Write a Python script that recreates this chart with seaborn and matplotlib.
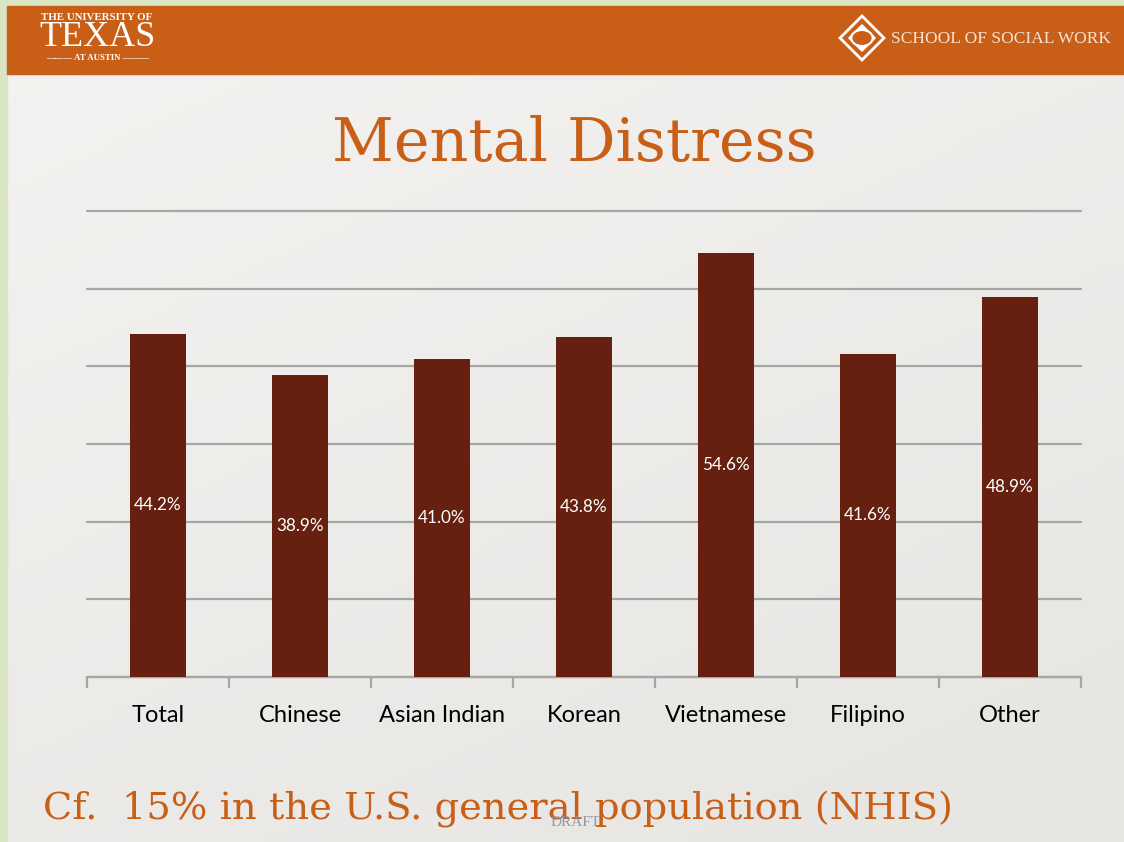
import numpy as np
import pandas as pd
import seaborn as sns
import matplotlib.pyplot as plt
from matplotlib.patches import Rectangle, Polygon, Circle

# datos del grafico
grupos = ['Total', 'Chinese', 'Asian Indian', 'Korean', 'Vietnamese', 'Filipino', 'Other']
distress = [44.2, 38.9, 41.0, 43.8, 54.6, 41.6, 48.9]
etiquetas = ['44.2%', '38.9%', '41.0%', '43.8%', '54.6%', '41.6%', '48.9%']
titulo = 'Mental Distress'
nota = 'Cf.  15% in the U.S. general population (NHIS)'

df = pd.DataFrame({'grupo': grupos, 'valor': distress})

naranja = '#C95E17'
barra = '#65200F'
gris = '#A6A6A6'

sns.set_style('white')
plt.rcParams['font.family'] = ['Lato', 'DejaVu Sans']

fig = plt.figure(figsize=(11.24, 8.42), dpi=100)

# fondo con degradado suave
bg = fig.add_axes([0, 0, 1, 1], zorder=-10)
yy, xx = np.mgrid[0:1:200j, 0:1:200j]
grad = 0.5 * yy + 0.3 * xx
bg.imshow(grad, cmap=sns.blend_palette(['#F4F3F1', '#E7E5E2'], as_cmap=True),
          extent=[0, 1, 0, 1], aspect='auto', origin='upper')
bg.set_xlim(0, 1)
bg.set_ylim(0, 1)
bg.axis('off')

# bandas verdes y cabecera naranja
bg.add_patch(Rectangle((0, 0), 7 / 1124, 1, color='#D9E5C3', zorder=2))
bg.add_patch(Rectangle((0, 1 - 6 / 842), 1, 6 / 842, color='#D9E5C3', zorder=2))
bg.add_patch(Rectangle((7 / 1124, 1 - 74 / 842), 1, 68 / 842, color=naranja, zorder=3))

# logo UT
fig.text(97 / 1124, 1 - 17 / 842, 'THE UNIVERSITY OF', color='white', fontsize=7.8,
         family='Liberation Serif', weight='bold', ha='center', va='center')
fig.text(97 / 1124, 1 - 38 / 842, 'TEXAS', color='white', fontsize=26,
         family='Liberation Serif', ha='center', va='center')
fig.text(97 / 1124, 1 - 58 / 842, '——— AT AUSTIN ———', color='white', fontsize=6.3,
         family='Liberation Serif', weight='bold', ha='center', va='center')

# logo escuela
cx, cy = 862 / 1124, 1 - 38 / 842
dx, dy = 22 / 1124, 22 / 842
bg.add_patch(Polygon([(cx - dx, cy), (cx, cy + dy), (cx + dx, cy), (cx, cy - dy)],
                     closed=True, fill=False, ec='white', lw=2, zorder=4))
bg.add_patch(Polygon([(cx - dx * 0.6, cy), (cx, cy + dy * 0.6), (cx + dx * 0.6, cy),
                      (cx, cy - dy * 0.6)], closed=True, fc='white', ec='white', zorder=4))
bg.add_patch(Circle((cx, cy), 0.0095, fc=naranja, ec='white', lw=1.5, zorder=5,
                    transform=bg.transAxes))
fig.text(891 / 1124, 1 - 39 / 842, 'SCHOOL OF SOCIAL WORK', color='#F6E3D6', fontsize=12.5,
         family='Liberation Serif', ha='left', va='center')

# titulo y nota
fig.text(574 / 1124, 1 - 144 / 842, titulo, color=naranja, fontsize=43.5,
         family='DejaVu Serif', ha='center', va='center')
fig.text(43 / 1124, 1 - 810 / 842, nota, color=naranja, fontsize=27.6,
         family='DejaVu Serif', ha='left', va='center')
fig.text(576 / 1124, 1 - 823 / 842, 'DRAFT', color='#7F93A6', fontsize=11,
         family='Liberation Serif', ha='center', va='center', alpha=0.9)

# grafico de barras
ax = fig.add_axes([87 / 1124, 165 / 842, 994 / 1124, 466 / 842])
ax.patch.set_alpha(0)
sns.barplot(data=df, x='grupo', y='valor', color=barra, width=0.4, saturation=1,
            linewidth=0, ax=ax, zorder=3)
ax.set_ylim(0, 60)
ax.set_xlim(-0.5, len(grupos) - 0.5)
ax.set_yticks(range(0, 61, 10))
ax.yaxis.grid(True, color=gris, lw=1.6)
for gl in ax.yaxis.get_gridlines():
    gl.set_clip_on(False)
ax.set_axisbelow(True)
ax.set_yticklabels([])
ax.tick_params(axis='y', length=0)
for s in ['left', 'right', 'top']:
    ax.spines[s].set_visible(False)
ax.spines['bottom'].set_color(gris)
ax.spines['bottom'].set_linewidth(1.6)

ax.set_xticks(np.arange(-0.5, len(grupos), 1), minor=True)
ax.tick_params(axis='x', which='minor', bottom=True, direction='out', length=8,
               width=1.6, color=gris)
ax.tick_params(axis='x', which='major', bottom=True, length=0, pad=20, labelsize=17,
               labelcolor='black')
ax.set_xlabel('')
ax.set_ylabel('')

# etiquetas dentro de las barras
for i, (v, t) in enumerate(zip(distress, etiquetas)):
    ax.text(i, v / 2, t, color='white', fontsize=12.3, ha='center', va='center', zorder=5)

plt.savefig('out.png', dpi=100)
